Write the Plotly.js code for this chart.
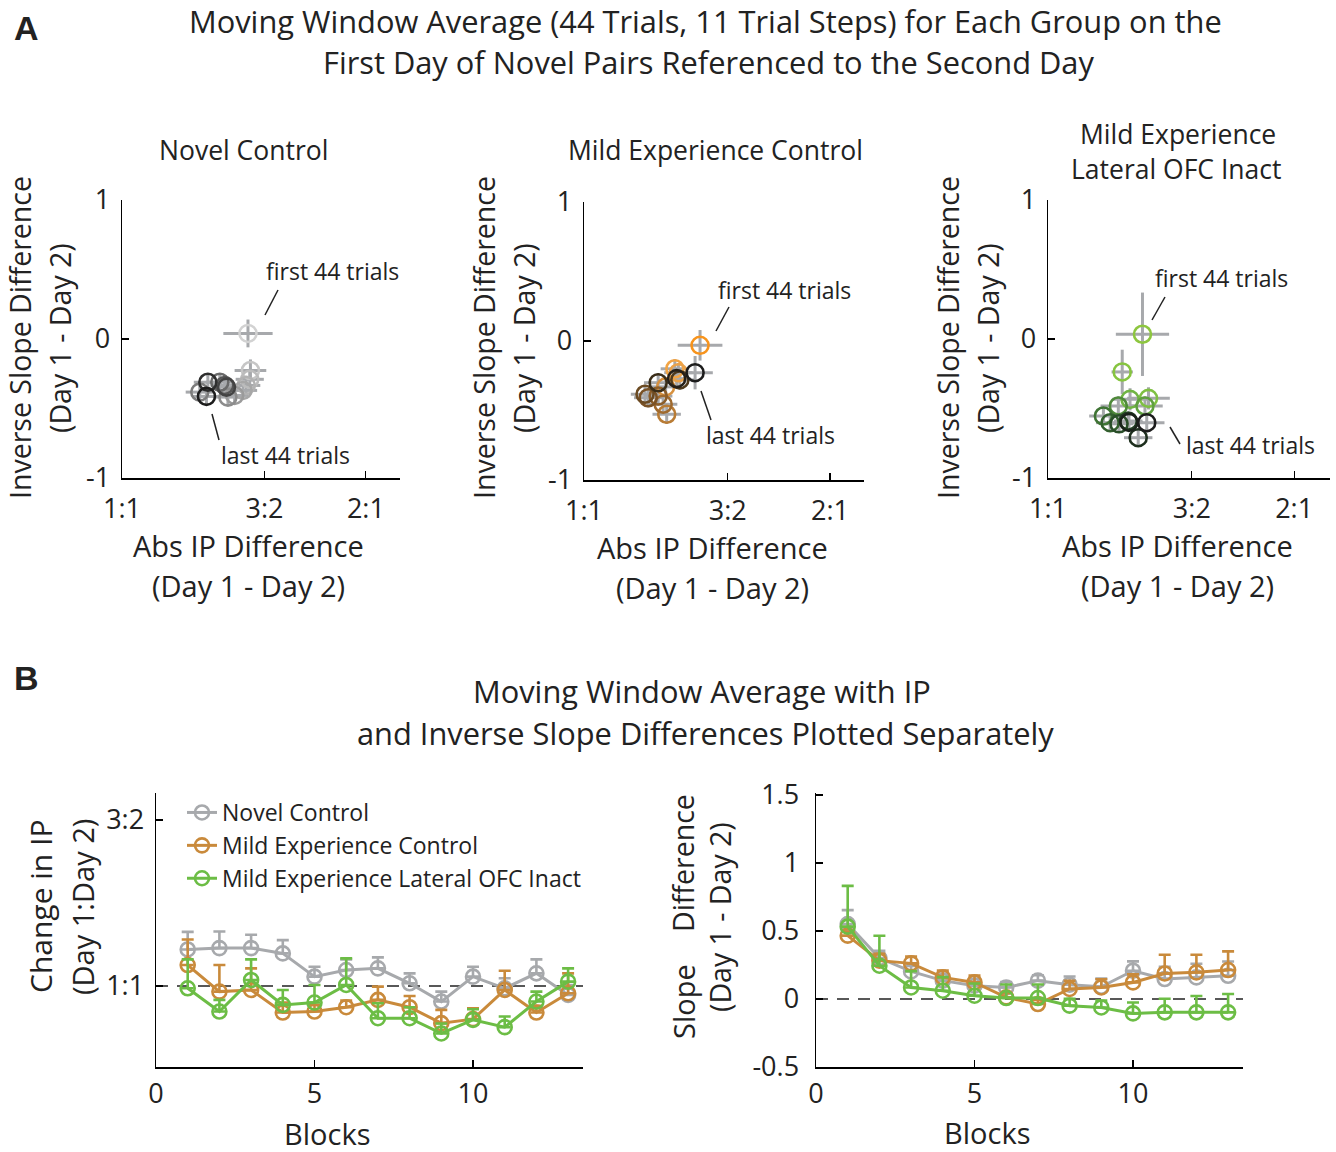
<!DOCTYPE html>
<html>
<head>
<meta charset="utf-8">
<script src="https://cdn.plot.ly/plotly-3.0.1.min.js"></script>
<style>
html,body{margin:0;padding:0;background:#fff;}
#chart{width:1336px;height:1152px;}
</style>
</head>
<body>
<div id="chart"></div>
<script>
// ---------- Panel A data (x: log IP ratio difference, y: inverse slope difference) ----------
const novelX    = [0.358, 0.365, 0.363, 0.353, 0.344, 0.320, 0.301, 0.221, 0.278, 0.292, 0.297, 0.244, 0.240];
const novelY    = [0.04, -0.227, -0.29, -0.334, -0.37, -0.406, -0.418, -0.382, -0.311, -0.334, -0.346, -0.311, -0.413];
const novelXErr = [0.07, 0.045, 0.04, 0.04, 0.04, 0.04, 0.04, 0.04, 0.04, 0.04, 0.04, 0.04, 0.04];
const novelYErr = [0.10, 0.08, 0.07, 0.07, 0.06, 0.06, 0.06, 0.06, 0.06, 0.06, 0.06, 0.06, 0.06];

const mildX    = [0.327, 0.256, 0.266, 0.230, 0.233, 0.223, 0.209, 0.181, 0.172, 0.270, 0.209, 0.261, 0.313];
const mildY    = [-0.031, -0.20, -0.228, -0.33, -0.527, -0.455, -0.396, -0.408, -0.383, -0.28, -0.30, -0.271, -0.228];
const mildXErr = [0.063, 0.04, 0.04, 0.04, 0.04, 0.04, 0.04, 0.04, 0.04, 0.04, 0.04, 0.04, 0.05];
const mildYErr = [0.11, 0.07, 0.07, 0.07, 0.07, 0.07, 0.07, 0.07, 0.07, 0.07, 0.07, 0.07, 0.12];

const ofcX    = [0.266, 0.209, 0.283, 0.231, 0.273, 0.198, 0.156, 0.175, 0.200, 0.226, 0.254, 0.228, 0.278];
const ofcY    = [0.034, -0.237, -0.427, -0.434, -0.482, -0.482, -0.554, -0.602, -0.61, -0.59, -0.71, -0.60, -0.602];
const ofcXErr = [0.075, 0.03, 0.06, 0.05, 0.05, 0.05, 0.04, 0.04, 0.04, 0.04, 0.04, 0.04, 0.05];
const ofcYErr = [0.30, 0.16, 0.08, 0.08, 0.07, 0.07, 0.06, 0.06, 0.06, 0.06, 0.06, 0.06, 0.07];

const ipTickVals = [0, 0.405, 0.693];
const ipTickText = ['1:1', '3:2', '2:1'];
const slopeTickVals = [-1, 0, 1];
const slopeTickText = ['-1', '0', '1'];

// ---------- Panel B data ----------
const blocks = [1, 2, 3, 4, 5, 6, 7, 8, 9, 10, 11, 12, 13];
const groupNames = ['Novel Control', 'Mild Experience Control', 'Mild Experience Lateral OFC Inact'];

const ipNovel    = [1.110, 1.114, 1.114, 1.098, 1.028, 1.048, 1.053, 1.008, 0.953, 1.028, 0.993, 1.038, 0.973];
const ipNovelErr = [0.053, 0.050, 0.040, 0.040, 0.030, 0.032, 0.033, 0.030, 0.030, 0.030, 0.030, 0.042, 0.030];
const ipMild     = [1.063, 0.983, 0.988, 0.920, 0.923, 0.936, 0.958, 0.936, 0.888, 0.900, 0.988, 0.920, 0.978];
const ipMildErr  = [0.077, 0.080, 0.065, 0.030, 0.020, 0.020, 0.040, 0.034, 0.040, 0.033, 0.058, 0.020, 0.060];
const ipOfc      = [0.993, 0.923, 1.018, 0.943, 0.950, 1.003, 0.903, 0.903, 0.857, 0.898, 0.876, 0.953, 1.013];
const ipOfcErr   = [0.087, 0.035, 0.062, 0.045, 0.053, 0.080, 0.045, 0.033, 0.030, 0.032, 0.032, 0.030, 0.040];
const ipTickValsB = [1, 1.5];
const ipTickTextB = ['1:1', '3:2'];
const blockTicks = [0, 5, 10];
const slopeTickValsB = [-0.5, 0, 0.5, 1, 1.5];
const slopeTickTextB = ['-0.5', '0', '0.5', '1', '1.5'];

const slNovel    = [0.551, 0.301, 0.203, 0.135, 0.098, 0.085, 0.135, 0.105, 0.090, 0.208, 0.147, 0.159, 0.171];
const slNovelErr = [0.103, 0.054, 0.040, 0.050, 0.050, 0.040, 0.040, 0.060, 0.060, 0.069, 0.090, 0.100, 0.105];
const slMild     = [0.466, 0.282, 0.262, 0.159, 0.122, 0.012, -0.037, 0.074, 0.085, 0.122, 0.188, 0.196, 0.213];
const slMildErr  = [0.030, 0.050, 0.050, 0.050, 0.050, 0.030, 0.030, 0.060, 0.060, 0.060, 0.137, 0.130, 0.137];
const slOfc      = [0.532, 0.245, 0.085, 0.061, 0.024, 0.007, 0.007, -0.049, -0.062, -0.106, -0.098, -0.098, -0.098];
const slOfcErr   = [0.300, 0.220, 0.120, 0.100, 0.090, 0.100, 0.100, 0.050, 0.050, 0.080, 0.100, 0.120, 0.135];

// ---------- styles ----------
const grayShades = ['#d2d2d2','#c6c6c6','#bcbcbc','#b2b2b2','#a7a7a7','#9b9b9b','#8c8c8c','#7c7c7c','#6a6a6a','#565656','#434343','#2e2e2e','#1c1c1c'];
const orangeShades = ['#f7941d','#f2a444','#eaa24a','#d7913f','#b97c35','#a06a2e','#8c5e2a','#7a5226','#6b4a22','#4f3a1c','#3a2d18','#262019','#1c1c1c'];
const greenShades = ['#8dc63f','#86c440','#7fc043','#70b443','#5fa040','#4f8a3a','#3f7434','#335f2e','#2a4e29','#233f24','#1e2f1e','#1a221a','#1c1c1c'];
const cGray = '#a7a9ac', cOrange = '#c98a3b', cGreen = '#6cbd45';
const FONT = 'Open Sans, Noto Sans, sans-serif';
const W = 1336, H = 1152;
const px = v => v / W;
const py = v => 1 - v / H;

function scatterA(xs, ys, xe, ye, colors, xa, ya) {
  return {
    type: 'scatter', mode: 'markers', x: xs, y: ys, xaxis: xa, yaxis: ya, showlegend: false,
    marker: {symbol: 'circle-open', size: 17, color: colors, line: {width: 2.6}},
    error_x: {type: 'data', array: xe, visible: true, color: '#a7a9ac', thickness: 3, width: 0},
    error_y: {type: 'data', array: ye, visible: true, color: '#a7a9ac', thickness: 3, width: 0}
  };
}
function lineB(y, err, color, name, xa, ya, legend) {
  return {
    type: 'scatter', mode: 'lines+markers', x: blocks, y: y, xaxis: xa, yaxis: ya,
    name: name, showlegend: legend,
    line: {color: color, width: 3},
    marker: {symbol: 'circle-open', size: 14, color: color, line: {width: 2.6}},
    error_y: {type: 'data', symmetric: false, array: err, arrayminus: err.map(() => 0), visible: true,
              color: color, thickness: 2.6, width: 6}
  };
}

const data = [
  scatterA(novelX, novelY, novelXErr, novelYErr, grayShades, 'x', 'y'),
  scatterA(mildX, mildY, mildXErr, mildYErr, orangeShades, 'x2', 'y2'),
  scatterA(ofcX, ofcY, ofcXErr, ofcYErr, greenShades, 'x3', 'y3'),
  lineB(ipNovel, ipNovelErr, cGray, groupNames[0], 'x4', 'y4', true),
  lineB(ipMild, ipMildErr, cOrange, groupNames[1], 'x4', 'y4', true),
  lineB(ipOfc, ipOfcErr, cGreen, groupNames[2], 'x4', 'y4', true),
  lineB(slNovel, slNovelErr, cGray, groupNames[0], 'x5', 'y5', false),
  lineB(slMild, slMildErr, cOrange, groupNames[1], 'x5', 'y5', false),
  lineB(slOfc, slOfcErr, cGreen, groupNames[2], 'x5', 'y5', false)
];

const axBase = {
  showgrid: false, zeroline: false, showline: true, linecolor: '#000', linewidth: 1.5,
  ticks: 'inside', ticklen: 7, tickwidth: 1.2, tickcolor: '#000',
  tickfont: {family: FONT, size: 27, color: '#222'}, fixedrange: true
};
function ax(o) { return Object.assign({}, axBase, o); }
const xa = o => ax(Object.assign({ticklabelstandoff: 6}, o));
const ya = o => ax(Object.assign({ticklabelstandoff: 5}, o));

const layout = {
  width: W, height: H, margin: {l: 0, r: 0, t: 0, b: 0},
  paper_bgcolor: '#fff', plot_bgcolor: 'rgba(0,0,0,0)',
  font: {family: FONT, color: '#222'},
  xaxis:  xa({domain: [px(122), px(400)], range: [0, 0.79], tickvals: ipTickVals, ticktext: ipTickText, anchor: 'y'}),
  yaxis:  ya({domain: [py(478), py(200)], range: [-1, 1], tickvals: slopeTickVals, ticktext: slopeTickText, anchor: 'x'}),
  xaxis2: xa({domain: [px(584), px(864)], range: [0, 0.789], tickvals: ipTickVals, ticktext: ipTickText, anchor: 'y2'}),
  yaxis2: ya({domain: [py(480), py(202)], range: [-1, 1], tickvals: slopeTickVals, ticktext: slopeTickText, anchor: 'x2'}),
  xaxis3: xa({domain: [px(1048), px(1330)], range: [0, 0.794], tickvals: ipTickVals, ticktext: ipTickText, anchor: 'y3'}),
  yaxis3: ya({domain: [py(478), py(200)], range: [-1, 1], tickvals: slopeTickVals, ticktext: slopeTickText, anchor: 'x3'}),
  xaxis4: xa({domain: [px(156), px(583)], range: [0, 13.47], tickvals: blockTicks, anchor: 'y4', ticklabelstandoff: 2}),
  yaxis4: ya({domain: [py(1067), py(793)], range: [0.756, 1.581], tickvals: ipTickValsB, ticktext: ipTickTextB, anchor: 'x4', ticklabelstandoff: 5}),
  xaxis5: xa({domain: [px(816), px(1243)], range: [0, 13.47], tickvals: blockTicks, anchor: 'y5', ticklabelstandoff: 2}),
  yaxis5: ya({domain: [py(1067), py(793)], range: [-0.5, 1.515], tickvals: slopeTickValsB, ticktext: slopeTickTextB, anchor: 'x5', ticklabelstandoff: 10}),
  legend: {x: px(182), y: py(791), xanchor: 'left', yanchor: 'top', bgcolor: 'rgba(0,0,0,0)',
           font: {family: FONT, size: 23, color: '#222'}, tracegroupgap: 0, itemwidth: 30},
  shapes: [
    {type: 'line', xref: 'x4', yref: 'y4', x0: 0, x1: 13.47, y0: 1, y1: 1, layer: 'below', line: {color: '#222', width: 1.5, dash: '12px,9px'}},
    {type: 'line', xref: 'x5', yref: 'y5', x0: 0, x1: 13.47, y0: 0, y1: 0, layer: 'below', line: {color: '#222', width: 1.5, dash: '12px,9px'}},
    // annotation pointer lines
    {type: 'line', xref: 'paper', yref: 'paper', x0: px(265), y0: py(315), x1: px(278), y1: py(290), line: {color: '#222', width: 1.5}},
    {type: 'line', xref: 'paper', yref: 'paper', x0: px(212), y0: py(414), x1: px(219), y1: py(440), line: {color: '#222', width: 1.5}},
    {type: 'line', xref: 'paper', yref: 'paper', x0: px(716), y0: py(331), x1: px(729), y1: py(307), line: {color: '#222', width: 1.5}},
    {type: 'line', xref: 'paper', yref: 'paper', x0: px(701), y0: py(391), x1: px(711), y1: py(420), line: {color: '#222', width: 1.5}},
    {type: 'line', xref: 'paper', yref: 'paper', x0: px(1152), y0: py(320), x1: px(1165), y1: py(297), line: {color: '#222', width: 1.5}},
    {type: 'line', xref: 'paper', yref: 'paper', x0: px(1170), y0: py(427), x1: px(1180), y1: py(444), line: {color: '#222', width: 1.5}}
  ],
  annotations: []
};

function txt(t, x, y, size, opts) {
  return Object.assign({text: t, xref: 'paper', yref: 'paper', x: px(x), y: py(y), xanchor: 'center', yanchor: 'middle',
    showarrow: false, borderpad: 0, font: {family: FONT, size: size, color: '#222'}}, opts || {});
}
const A = layout.annotations;
const boldFont = {family: 'Liberation Sans, Arial, sans-serif', size: 34, color: '#222'};
A.push(txt('<b>A</b>', 26, 28, 34, {font: boldFont}));
A.push(txt('<b>B</b>', 26, 678, 34, {font: boldFont}));
A.push(txt('Moving Window Average (44 Trials, 11 Trial Steps) for Each Group on the', 705, 21, 30.8));
A.push(txt('First Day of Novel Pairs Referenced to the Second Day', 708, 62, 30.8));
A.push(txt('Novel Control', 243, 150, 26.5));
A.push(txt('Mild Experience Control', 715, 150, 26.5));
A.push(txt('Mild Experience', 1178, 134, 26.5));
A.push(txt('Lateral OFC Inact', 1176, 169, 26.5));
// A axis titles
[[20, 60, 338], [484, 524, 338], [948, 988, 338]].forEach(([x1, x2, yc]) => {
  A.push(txt('Inverse Slope Difference', x1, yc, 28.5, {textangle: -90}));
  A.push(txt('(Day 1 - Day 2)', x2, yc, 28.5, {textangle: -90}));
});
[[248, 545], [712, 547], [1177, 545]].forEach(([xc, y1]) => {
  A.push(txt('Abs IP Difference', xc, y1, 29));
  A.push(txt('(Day 1 - Day 2)', xc, y1 + 40, 29));
});
// pointer labels
A.push(txt('first 44 trials', 332, 271, 23));
A.push(txt('last 44 trials', 285, 455, 23));
A.push(txt('first 44 trials', 785, 290, 23));
A.push(txt('last 44 trials', 770, 435, 23));
A.push(txt('first 44 trials', 1221, 278, 23));
A.push(txt('last 44 trials', 1250, 445, 23));
// B titles
A.push(txt('Moving Window Average with IP', 702, 691, 30.8));
A.push(txt('and Inverse Slope Differences Plotted Separately', 705, 733, 30.8));
A.push(txt('Change in IP', 40, 907, 30, {textangle: -90}));
A.push(txt('(Day 1:Day 2)', 82, 907, 29, {textangle: -90}));
A.push(txt('Blocks', 327, 1133, 29));
A.push(txt('Slope', 683, 1002, 29, {textangle: -90}));
A.push(txt('Difference', 683, 863, 28.5, {textangle: -90}));
A.push(txt('(Day 1 - Day 2)', 720, 917, 28.5, {textangle: -90}));
A.push(txt('Blocks', 987, 1132, 29));

Plotly.newPlot('chart', data, layout, {staticPlot: true, displayModeBar: false});
</script>
</body>
</html>
